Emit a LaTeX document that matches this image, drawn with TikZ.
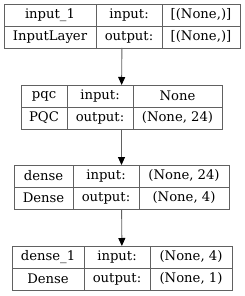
\documentclass[tikz,border=0pt]{standalone}
\usepackage{fontspec}
\setmainfont{DejaVu Serif}
\usetikzlibrary{arrows.meta, fit}
\tikzset{
  cell/.style   ={draw=black!62, line width=0.9pt, anchor=north west,
                  minimum height=22pt, inner sep=0pt, outer sep=0pt,
                  font=\fontsize{13.2}{15}\selectfont},
  lyr/.style    ={inner sep=0pt, outer sep=0pt},
  flow/.style   ={-{Triangle[length=8pt, width=7pt, fill=black, color=black]},
                  line width=0.9pt, black!62},
}
\begin{document}
\begin{tikzpicture}[x=1pt, y=-1pt]
  \useasboundingbox (0,0) rectangle (244,296);
  % input_1
  \node[cell, minimum width=92pt] (inA)  at (4,4)    {input\_1};
  \node[cell, minimum width=66pt] (inB)  at (96,4)   {input:};
  \node[cell, minimum width=78pt] (inC)  at (162,4)  {[(None,)]};
  \node[cell, minimum width=92pt] (inD)  at (4,26)   {InputLayer};
  \node[cell, minimum width=66pt] (inE)  at (96,26)  {output:};
  \node[cell, minimum width=78pt] (inF)  at (162,26) {[(None,)]};
  \node[lyr, fit=(inA)(inF)] (input) {};
  % pqc
  \node[cell, minimum width=46pt] (pqA)  at (21,85)   {pqc};
  \node[cell, minimum width=66pt] (pqB)  at (67,85)   {input:};
  \node[cell, minimum width=89pt] (pqC)  at (133,85)  {None};
  \node[cell, minimum width=46pt] (pqD)  at (21,107)  {PQC};
  \node[cell, minimum width=66pt] (pqE)  at (67,107)  {output:};
  \node[cell, minimum width=89pt] (pqF)  at (133,107) {(None, 24)};
  \node[lyr, fit=(pqA)(pqF)] (pqc) {};
  % dense
  \node[cell, minimum width=59pt] (dnA)  at (14,165)  {dense};
  \node[cell, minimum width=66pt] (dnB)  at (73,165)  {input:};
  \node[cell, minimum width=90pt] (dnC)  at (139,165) {(None, 24)};
  \node[cell, minimum width=59pt] (dnD)  at (14,187)  {Dense};
  \node[cell, minimum width=66pt] (dnE)  at (73,187)  {output:};
  \node[cell, minimum width=90pt] (dnF)  at (139,187) {(None, 4)};
  \node[lyr, fit=(dnA)(dnF)] (dense) {};
  % dense_1
  \node[cell, minimum width=72pt] (doA)  at (12,246)  {dense\_1};
  \node[cell, minimum width=66pt] (doB)  at (84,246)  {input:};
  \node[cell, minimum width=82pt] (doC)  at (150,246) {(None, 4)};
  \node[cell, minimum width=72pt] (doD)  at (12,268)  {Dense};
  \node[cell, minimum width=66pt] (doE)  at (84,268)  {output:};
  \node[cell, minimum width=82pt] (doF)  at (150,268) {(None, 1)};
  \node[lyr, fit=(doA)(doF)] (dense1) {};
  % connectors
  \draw[flow] (input) -- (pqc);
  \draw[flow] (pqc) -- (dense);
  \draw[flow] (dense) -- (dense1);
\end{tikzpicture}
\end{document}
